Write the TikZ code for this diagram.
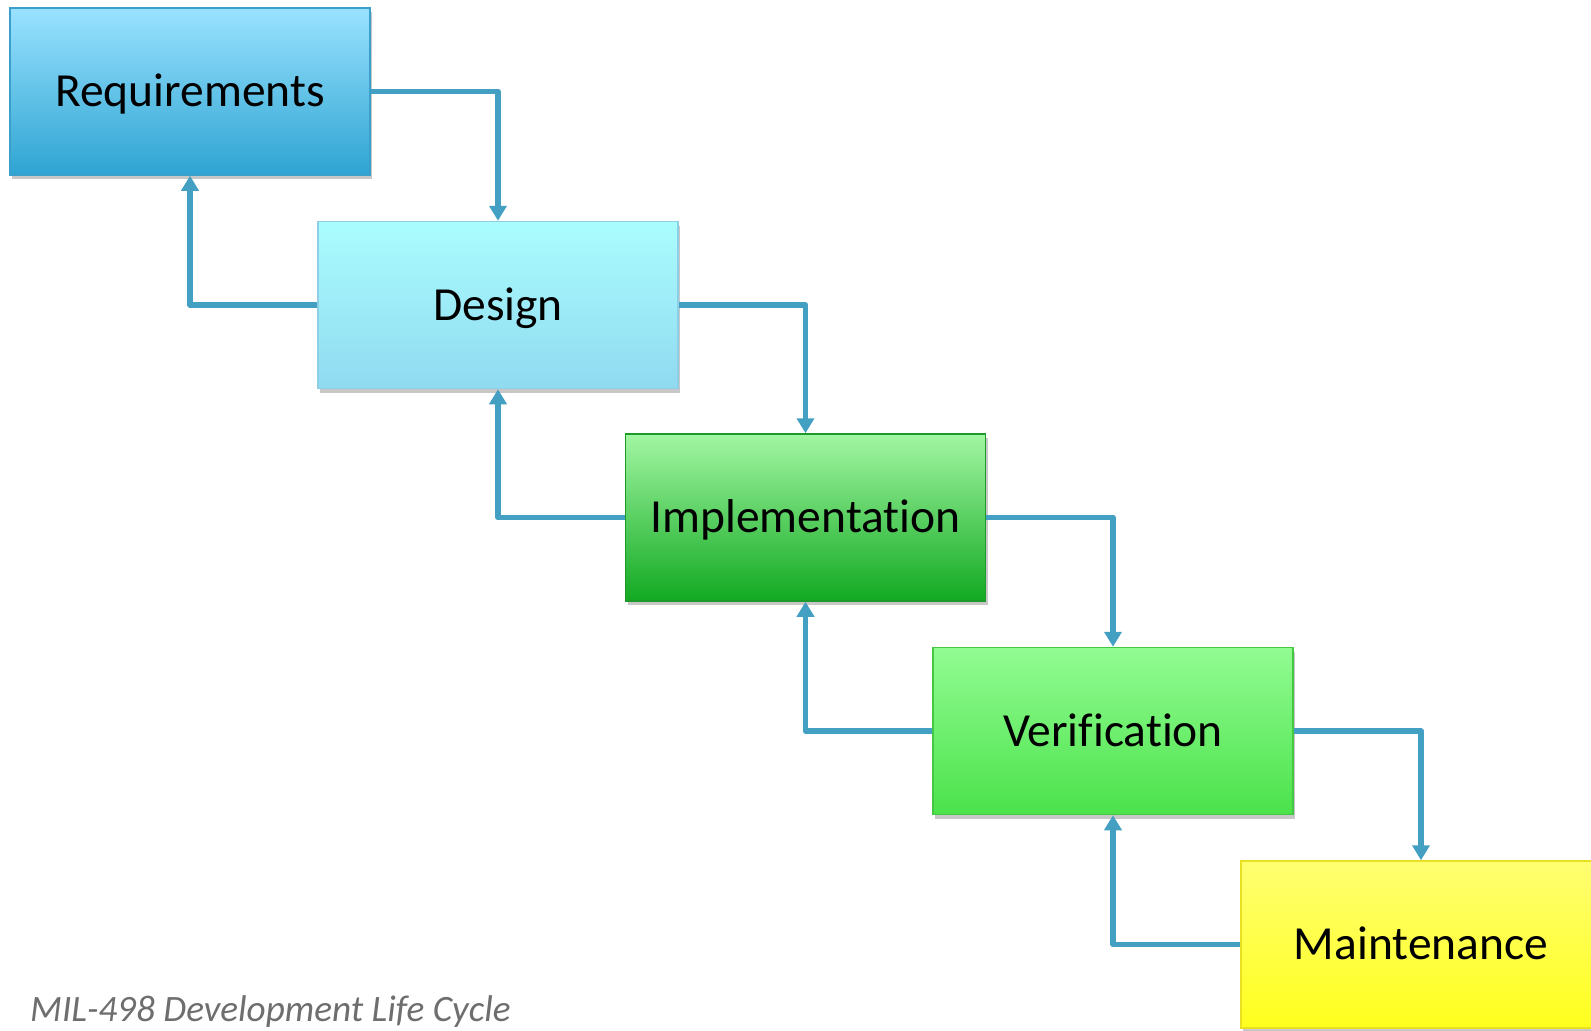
\documentclass[tikz,border=0pt]{standalone}
\usepackage{fontspec}
\setmainfont{Carlito}[Ligatures={NoCommon}]
\usetikzlibrary{arrows.meta,shadows}
\definecolor{arrowc}{HTML}{44A0C2}
\definecolor{reqtop}{HTML}{9AE2FF}
\definecolor{reqbot}{HTML}{2EA4D2}
\definecolor{reqbd}{HTML}{3A9FCA}
\definecolor{destop}{HTML}{AAFDFE}
\definecolor{desbot}{HTML}{90DAF0}
\definecolor{desbd}{HTML}{8CCFE6}
\definecolor{imptop}{HTML}{A2F6A2}
\definecolor{impbot}{HTML}{12A922}
\definecolor{impbd}{HTML}{1E9A2A}
\definecolor{vertop}{HTML}{92FC92}
\definecolor{verbot}{HTML}{4BE24B}
\definecolor{verbd}{HTML}{44C844}
\definecolor{maitop}{HTML}{FFFF72}
\definecolor{maibot}{HTML}{FFFF1E}
\definecolor{maibd}{HTML}{E8E020}
\definecolor{capc}{HTML}{6E6E6E}
\tikzset{
  stage/.style={rectangle, minimum width=360pt, minimum height=167pt, inner sep=0pt,
    line width=1.5pt, font=\fontsize{47.5}{52}\selectfont,
    text height=30pt, text depth=0pt,
    drop shadow={shadow xshift=2pt, shadow yshift=-4pt, opacity=0.22, fill=black}},
  conn/.style={draw=arrowc, line width=5.5pt, line join=round,
    -{Triangle[width=17pt,length=15pt]}},
}
\begin{document}
\begin{tikzpicture}[x=1pt,y=-1pt]
\useasboundingbox (0,0) rectangle (1591,1031);
\clip (0,0) rectangle (1591,1031);
\fill[white] (0,0) rectangle (1591,1031);
\node[stage, draw=reqbd, top color=reqtop, bottom color=reqbot] (R) at (190,91.5) {Requirements};
\node[stage, draw=desbd, top color=destop, bottom color=desbot] (D) at (498,305) {Design};
\node[stage, draw=impbd, top color=imptop, bottom color=impbot] (I) at (805.5,517.5) {Implementation};
\node[stage, draw=verbd, top color=vertop, bottom color=verbot] (V) at (1113,731) {Verification};
\node[stage, draw=maibd, top color=maitop, bottom color=maibot] (M) at (1421,944.5) {Maintenance};
\draw[conn] (R.east) -| (D.north);
\draw[conn] (D.east) -| (I.north);
\draw[conn] (I.east) -| (V.north);
\draw[conn] (V.east) -| (M.north);
\draw[conn] (D.west) -| (R.south);
\draw[conn] (I.west) -| (D.south);
\draw[conn] (V.west) -| (I.south);
\draw[conn] (M.west) -| (V.south);
\node[anchor=base west, inner sep=0pt, text=capc, font=\fontsize{37.2}{42}\selectfont\itshape] (cap) at (30,1021) {MIL-498 Development Life Cycle};
\end{tikzpicture}
\end{document}
